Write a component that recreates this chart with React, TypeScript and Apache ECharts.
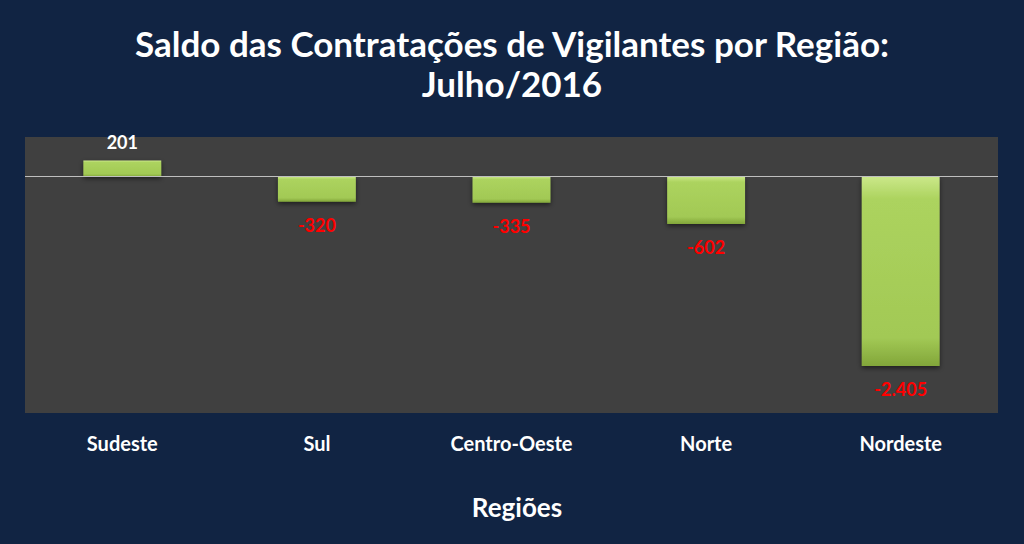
import React, { useEffect, useRef } from "react";
import * as echarts from "echarts";

const categories = ["Sudeste", "Sul", "Centro-Oeste", "Norte", "Nordeste"];
const saldo = [201, -320, -335, -602, -2405];
const yMin = -3000;
const yMax = 500;

function fmt(v: number): string {
  const s = Math.abs(v).toString().replace(/\B(?=(\d{3})+(?!\d))/g, ".");
  return (v < 0 ? "-" : "") + s;
}

const FONT = "Lato, 'Open Sans', sans-serif";

export default function App() {
  const ref = useRef<HTMLDivElement>(null);
  useEffect(() => {
    if (!ref.current) return;
    const chart = echarts.init(ref.current, undefined, { renderer: "svg" });
    chart.setOption({
      animation: false,
      backgroundColor: "#112443",
      title: {
        text: "Saldo das Contratações de Vigilantes por Região:\nJulho/2016",
        left: "center",
        top: 18,
        textStyle: {
          color: "#ffffff",
          fontFamily: FONT,
          fontWeight: "bold",
          fontSize: 35,
          lineHeight: 40,
        },
      },
      grid: {
        left: 25,
        right: 26,
        top: 137,
        bottom: 131,
        show: true,
        backgroundColor: "#404040",
        borderWidth: 0,
      },
      xAxis: {
        type: "category",
        data: categories,
        name: "Regiões",
        nameLocation: "middle",
        nameGap: 81,
        nameTextStyle: {
          color: "#ffffff",
          fontFamily: FONT,
          fontWeight: "bold",
          fontSize: 26,
          padding: [0, 0, 0, 11],
        },
        axisLine: { show: false, onZero: false },
        axisTick: { show: false },
        axisLabel: { color: "#ffffff", fontFamily: FONT, fontWeight: "bold", fontSize: 20, margin: 20 },
      },
      yAxis: {
        type: "value",
        min: yMin,
        max: yMax,
        show: false,
        splitLine: { show: false },
      },
      series: [
        {
          type: "bar",
          barWidth: "40%",
          data: saldo.map((v) => ({
            value: v,
            label: {
              show: true,
              position: v >= 0 ? "top" : "bottom",
              distance: v >= 0 ? 10 : 14,
              color: v >= 0 ? "#ffffff" : "#ff0000",
              fontFamily: FONT,
              fontWeight: "bold",
              fontSize: 18,
              formatter: () => fmt(v),
            },
          })),
          itemStyle: {
            color: new echarts.graphic.LinearGradient(0, 0, 0, 1, [
              { offset: 0, color: "#cbe88a" },
              { offset: 0.12, color: "#acd35e" },
              { offset: 0.85, color: "#a2c955" },
              { offset: 1, color: "#82a63a" },
            ]),
            shadowColor: "rgba(0,0,0,0.55)",
            shadowBlur: 5,
            shadowOffsetY: 2,
          },
          markLine: {
            silent: true,
            symbol: "none",
            label: { show: false },
            lineStyle: { color: "#bfbfbf", width: 1, type: "solid" },
            data: [{ yAxis: 0 }],
          },
        },
      ],
    });
    return () => chart.dispose();
  }, []);
  return <div ref={ref} style={{ width: 1024, height: 544, position: "fixed", left: 0, top: 0 }} />;
}
